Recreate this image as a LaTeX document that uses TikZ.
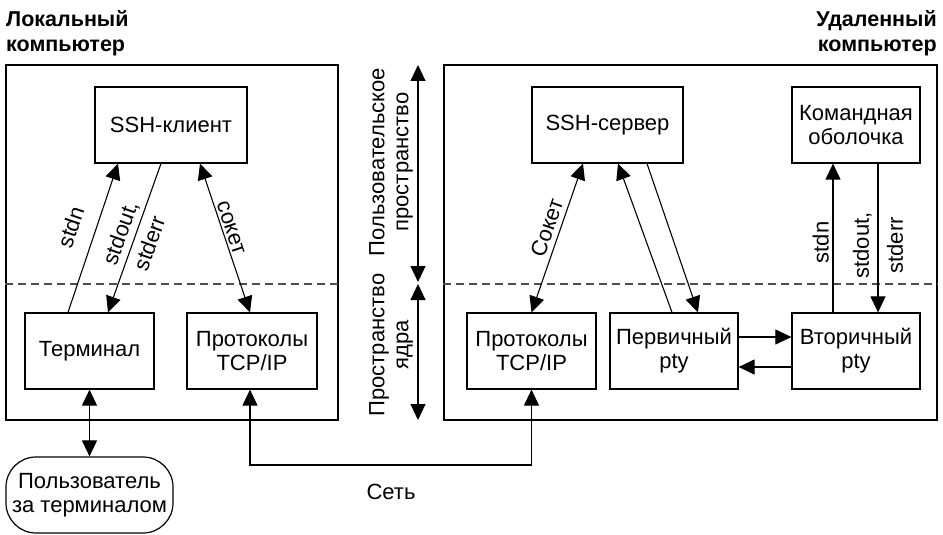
\documentclass[tikz,border=0pt]{standalone}
\usepackage{fontspec}
\setmainfont{Liberation Sans}
\usetikzlibrary{arrows.meta,positioning,calc}

\newcommand{\diafont}{\fontsize{22}{24}\selectfont}
\newcommand{\headfont}{\fontsize{21.5}{25}\selectfont\bfseries}

\begin{document}
\begin{tikzpicture}[x=1pt, y=-1pt,
  font=\diafont,
  hostframe/.style={draw, line width=1.3pt, inner sep=0pt},
  unitbox/.style={draw, line width=1.2pt, minimum height=76pt, align=center, inner sep=0pt},
  arr/.style={-{Triangle[length=16pt,width=15pt]}, line width=1.1pt},
  dbl/.style={{Triangle[length=16pt,width=15pt]}-{Triangle[length=16pt,width=15pt]}, line width=1.1pt},
  spaceline/.style={dash pattern=on 8pt off 5pt, line width=1.2pt, black!70},
  heading/.style={font=\headfont, inner sep=0pt},
  lbl/.style={inner sep=0pt}
]
\useasboundingbox (0,0) rectangle (943,535);

% hosts
\node[hostframe, minimum width=332pt, minimum height=355pt] (local) at (172,242.5) {};
\node[hostframe, minimum width=493pt, minimum height=355pt] (remote) at (690.5,242.5) {};
\node[heading, anchor=north west, align=left] (localtitle) at (6,10) {Локальный\\компьютер};
\node[heading, anchor=north east, align=right] (remotetitle) at (937,10) {Удаленный\\компьютер};

\coordinate (split) at (0,284);
\draw[spaceline] (local.west |- split) -- (local.east |- split);
\draw[spaceline] (remote.west |- split) -- (remote.east |- split);

% local side
\node[unitbox, minimum width=152pt] (client) at (171,125) {SSH-клиент};
\node[unitbox, minimum width=129pt] (term) at (89.5,351) {Терминал};
\node[unitbox, minimum width=130pt] (tcpL) at (252,351) {Протоколы\\TCP/IP};
\node[draw, line width=1.2pt, rounded corners=30pt, minimum width=167pt, minimum height=76pt, align=center, inner sep=0pt] (user) at (89.5,495) {Пользователь\\за терминалом};

% remote side
\node[unitbox, minimum width=151pt] (server) at (607.5,125) {SSH-сервер};
\node[unitbox, minimum width=128pt] (shell) at (856,125) {Командная\\оболочка};
\node[unitbox, minimum width=129pt] (tcpR) at (531.5,351) {Протоколы\\TCP/IP};
\node[unitbox, minimum width=128pt] (ptyM) at (674,351) {Первичный\\pty};
\node[unitbox, minimum width=128pt] (ptyS) at (856,351) {Вторичный\\pty};

% spaces
\node[rotate=90, align=center] (userspace) at (391,162) {Пользовательское\\пространство};
\node[rotate=90, align=center] (kernelspace) at (391,345) {Пространство\\ядра};
\coordinate (utop) at (418,65);
\coordinate (umid) at (418,282);
\coordinate (kmid) at (418,284);
\coordinate (kbot) at (418,420);
\draw[dbl] (utop) -- (umid);
\draw[dbl] (kmid) -- (kbot);

% local connectors
\draw[arr] ([xshift=-21.5pt]term.north) -- node[lbl, sloped, above=16pt, pos=.52] {stdn} ([xshift=-53pt]client.south);
\draw[arr] ([xshift=-10pt]client.south) -- node[lbl, sloped, align=center, midway] {stdout,\\[7pt]stderr} ([xshift=18.5pt]term.north);
\draw[dbl] ([xshift=29pt]client.south) -- node[lbl, sloped, above=2pt, pos=.45] {сокет} ([xshift=-2pt]tcpL.north);
\draw[dbl] (term.south) -- (user.north);

% network
\coordinate (net) at (391,465);
\draw[dbl] ([xshift=-2pt]tcpL.south) |- (net) -| (tcpR.south);
\node (netlabel) at (391,492) {Сеть};

% remote connectors
\draw[dbl] ([xshift=-24.5pt]server.south) -- node[lbl, sloped, above=5pt, pos=.46] {Сокет} (tcpR.north);
\draw[arr] ([xshift=-2pt]ptyM.north) -- ([xshift=10.5pt]server.south);
\draw[arr] ([xshift=39.5pt]server.south) -- ([xshift=24pt]ptyM.north);
\draw[arr] ([yshift=14pt]ptyM.east) -- ([yshift=14pt]ptyS.west);
\draw[arr] ([yshift=-16pt]ptyS.west) -- ([yshift=-16pt]ptyM.east);
\draw[arr] ([xshift=-23pt]ptyS.north) -- node[lbl, sloped, above=3.5pt, pos=.47] {stdn} ([xshift=-23pt]shell.south);
\draw[arr] ([xshift=22pt]shell.south) -- node[lbl, rotate=90, align=center, pos=.55] {stdout,\\[10pt]stderr} ([xshift=22pt]ptyS.north);
\end{tikzpicture}
\end{document}
